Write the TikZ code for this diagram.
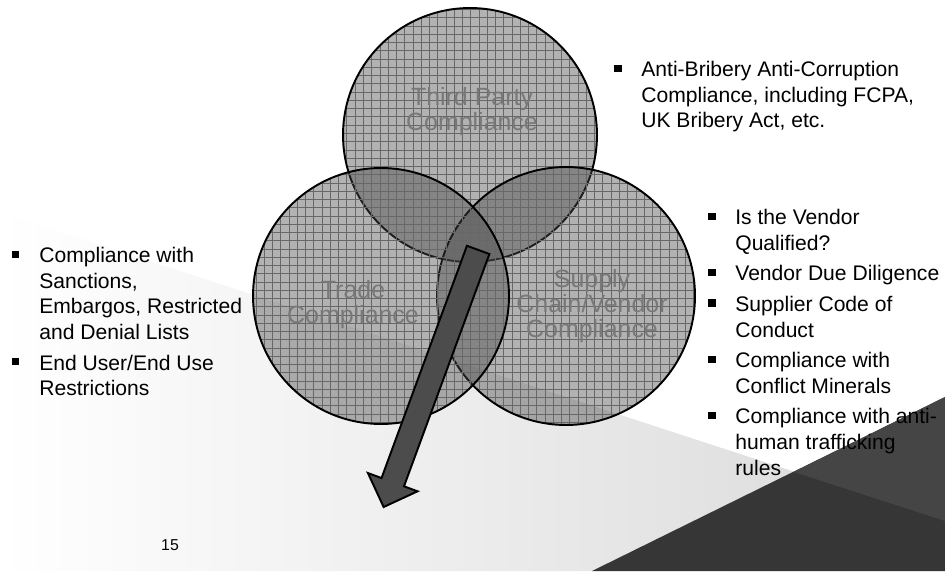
\documentclass[tikz,border=0pt]{standalone}
\usepackage{fontspec}
\setmainfont{Liberation Sans}
\usetikzlibrary{shapes.arrows,patterns}

% grid texture of the circles
\pgfdeclarepatternformonly{venngrid}{\pgfqpoint{-1pt}{-1pt}}{\pgfqpoint{5.7pt}{5.7pt}}{\pgfqpoint{4.7pt}{4.7pt}}{
  \pgfsetlinewidth{0.4pt}
  \pgfpathmoveto{\pgfqpoint{0pt}{0pt}}\pgfpathlineto{\pgfqpoint{4.8pt}{0pt}}
  \pgfpathmoveto{\pgfqpoint{0pt}{0pt}}\pgfpathlineto{\pgfqpoint{0pt}{4.8pt}}
  \pgfusepath{stroke}}

\newcommand{\sqbul}{\llap{\rule[2.8pt]{4pt}{4pt}\hspace{11.3pt}}}

\definecolor{vennfill}{gray}{0.28}
\definecolor{gridline}{gray}{0.5}
\definecolor{labelgray}{gray}{0.47}
\definecolor{arrowfill}{gray}{0.3}
\definecolor{darkback}{gray}{0.21}
\definecolor{darkbacktop}{gray}{0.27}

\begin{document}
\begin{tikzpicture}[x=0.02cm,y=-0.02cm,
    venn/.style={circle,draw=black,line width=1.1pt,inner sep=0pt,
      preaction={pattern=venngrid,pattern color=gridline},
      fill=vennfill,fill opacity=0.42,draw opacity=1},
    vennlabel/.style={align=center,text=labelgray,inner sep=0pt,
      font=\fontsize{14.2}{14.2}\selectfont},
    bullets/.style={align=left,anchor=north west,inner sep=0pt,
      font=\fontsize{12}{14.6}\selectfont}]
  \useasboundingbox (0,0) rectangle (945,571);

  % background
  \shade[left color=white,right color=black!15] (0,212) -- (945,521) -- (945,571) -- (0,571) -- cycle;
  \fill[darkback] (592,571) -- (945,397) -- (945,571) -- cycle;
  \fill[darkbacktop] (794,472) -- (945,397) -- (945,521) -- cycle;

  % the three circles
  \node[venn,minimum size=5.08cm] (third) at (470,135) {};
  \node[venn,minimum size=5.16cm] (supply) at (566,296) {};
  \node[venn,minimum size=5.12cm] (trade) at (381,296) {};

  \node[vennlabel] (thirdlabel) at (472,112) {Third Party\\Compliance};
  \node[vennlabel] (tradelabel) at (353,305) {Trade\\Compliance};
  \node[vennlabel] (supplylabel) at (592,306) {Supply\\Chain/Vendor\\Compliance};

  \node[single arrow,draw=black,line width=1.1pt,fill=arrowfill,
    rotate=-110.19,anchor=tail,minimum height=5.48cm,
    inner xsep=0pt,inner ysep=0.22cm,single arrow head extend=0.29cm] (focus) at (478.5,249) {};

  % lists
  \node[bullets] (thirdlist) at (641,61) {\sqbul Anti-Bribery Anti-Corruption\\Compliance, including FCPA,\\UK Bribery Act, etc.};
  \node[bullets] (tradelist) at (39,247) {\sqbul Compliance with\\Sanctions,\\Embargos, Restricted\\and Denial Lists\\[2.8pt]\sqbul End User/End Use\\Restrictions};
  \node[bullets] (supplylist) at (735,209) {\sqbul Is the Vendor\\Qualified?\\[2.8pt]\sqbul Vendor Due Diligence\\[2.8pt]\sqbul Supplier Code of\\Conduct\\[2.8pt]\sqbul Compliance with\\Conflict Minerals\\[2.8pt]\sqbul Compliance with anti-\\human trafficking\\rules};

  \node[font=\fontsize{9}{10}\selectfont] (pagenum) at (170,545) {15};
\end{tikzpicture}
\end{document}
